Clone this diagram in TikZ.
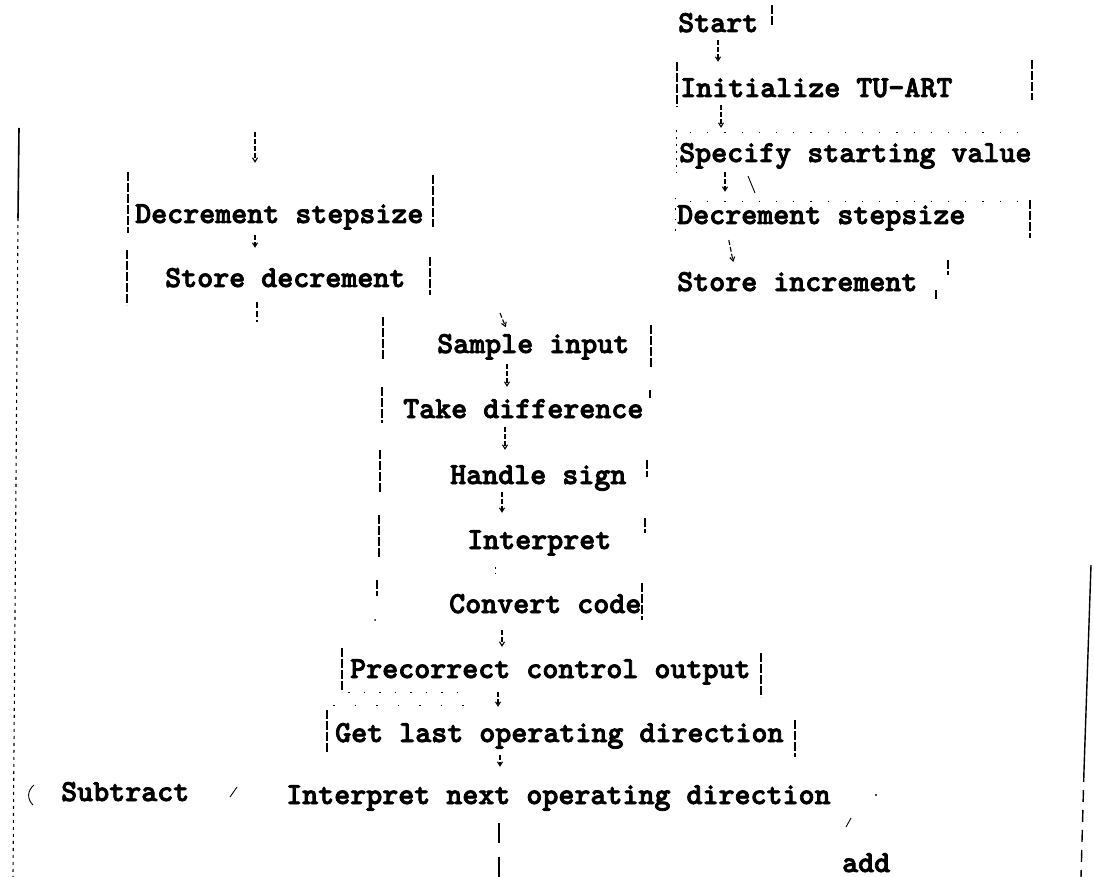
\documentclass[tikz,border=0pt]{standalone}
\usepackage{fontspec}
\usetikzlibrary{arrows.meta}
\newfontfamily\twfont{lmmonolt10-bold}[Extension=.otf,FakeBold=2.6]
\begin{document}
\begin{tikzpicture}[x=1pt,y=-1pt,
  lbl/.style={anchor=base west,inner sep=0pt,text height=20pt,text depth=7pt,
    font=\twfont\fontsize{30.5}{34}\selectfont},
  arr/.style={black,line width=1.1pt,dash pattern=on 5pt off 2pt,-{Straight Barb[length=4pt,width=5pt]}},
  seg/.style={black,line width=1.1pt,dash pattern=on 6pt off 3pt},
  bar/.style={black,line width=1.2pt,dash pattern=on 9pt off 2pt},
  dotln/.style={black,line width=1pt,dash pattern=on 1.2pt off 16pt},
  frag/.style={black,line width=0.9pt}]
\fill[white] (0,0) rectangle (1094,877);
\useasboundingbox (0,0) rectangle (1094,877);

% right column
\node[lbl] (start)    at (678,32)  {Start};
\node[lbl] (init)     at (680,97)  {Initialize TU-ART};
\node[lbl] (spec)     at (679,162) {Specify starting value};
\node[lbl] (decR)     at (677,224) {Decrement stepsize};
\node[lbl] (storeInc) at (677,291) {Store increment};
% left column
\node[lbl] (decL)     at (135,223) {Decrement stepsize};
\node[lbl] (storeDec) at (165,287) {Store decrement};
% middle column
\node[lbl] (sample)   at (437,353) {Sample input};
\node[lbl] (diff)     at (403,418) {Take difference};
\node[lbl] (sign)     at (450,484) {Handle sign};
\node[lbl] (interp)   at (467,549) {Interpret};
\node[lbl] (conv)     at (449,613) {Convert code};
\node[lbl] (precorr)  at (350,678) {Precorrect control output};
\node[lbl] (getlast)  at (335,742) {Get last operating direction};
\node[lbl] (intnext)  at (286,804) {Interpret next operating direction};
\node[lbl] (subtract) at (61,801)  {Subtract};
\node[lbl] (add)      at (842,872) {add};

\coordinate (topL) at (255,132);
\coordinate (botL) at (257,322);
\coordinate (topM) at (500,313);
\coordinate (botM) at (499,877);

% connectors, right column
\draw[arr,shorten <=1pt,shorten >=15pt] (start.south -| 718,0) -- (init.north -| 718,0);
\draw[arr,shorten <=1pt,shorten >=14pt] (init.south -| 721,0) -- (spec.north -| 721,0);
\draw[arr,shorten <=3pt,shorten >=12pt] (spec.south -| 725,0) -- (decR.north -| 725,0);
\draw[frag] (748,176) -- (755,193);
\draw[arr,shorten <=9pt,shorten >=9pt] (decR.south -| 727,0) -- (storeInc.north -| 735,0);
% connectors, left column
\draw[arr,shorten >=40pt] (topL) -- (decL.north -| topL);
\draw[arr,shorten <=5pt,shorten >=19pt] (decL.south -| 255,0) -- (storeDec.north -| 255,0);
\draw[seg,shorten <=8pt] (storeDec.south -| botL) -- (botL);
% connectors, middle column
\draw[arr,shorten >=6pt] (topM) -- (sample.north -| 508,0);
\draw[arr,shorten <=4pt,shorten >=11pt] (sample.south -| 507,0) -- (diff.north -| 507,0);
\draw[arr,shorten <=2pt,shorten >=14pt] (diff.south -| 505,0) -- (sign.north -| 505,0);
\draw[arr,shorten <=1pt,shorten >=16pt] (sign.south -| 502,0) -- (interp.north -| 502,0);
\draw[black,line width=1pt,dash pattern=on 1.5pt off 4pt,shorten <=11pt,shorten >=16pt] (interp.south -| 495,0) -- (conv.north -| 495,0);
\draw[arr,shorten <=10pt,shorten >=11pt] (conv.south -| 502,0) -- (precorr.north -| 502,0);
\draw[arr,shorten <=7pt,shorten >=15pt] (precorr.south -| 498,0) -- (getlast.north -| 498,0);
\draw[arr,shorten <=6pt,shorten >=17pt] (getlast.south -| 500,0) -- (intnext.north -| 500,0);
\draw[black,line width=1.1pt,dash pattern=on 20pt off 14pt,shorten <=12pt] (intnext.south -| botM) -- (botM);

% box side fragments
\draw[bar] (772,5) -- (772,25);
\draw[bar] (677,62) -- (677,107);
\draw[bar] (1032,60) -- (1032,100);
\draw[dotln,dash pattern=on 2pt off 5pt] (676,130) -- (676,173);
\draw[dotln,dash pattern=on 1.5pt off 9pt] (675,198) -- (675,240);
\draw[bar] (1030,200) -- (1030,238);
\draw[bar] (948,260) -- (948,275);
\draw[bar] (936,290) -- (936,300);
\draw[dotln] (690,133) -- (1030,133);
\draw[dotln] (690,202) -- (1030,202);

\draw[bar] (128,172) -- (128,233);
\draw[bar] (433,175) -- (433,227);
\draw[bar] (127,250) -- (127,305);
\draw[bar] (430,257) -- (430,295);

\draw[bar] (383,317) -- (383,360);
\draw[bar] (651,325) -- (651,367);
\draw[bar] (382,387) -- (382,423);
\draw[bar] (650,390) -- (650,398);
\draw[bar] (380,450) -- (380,493);
\draw[bar] (647,460) -- (647,477);
\draw[bar] (379,515) -- (379,557);
\draw[bar] (645,518) -- (645,533);
\draw[bar] (377,580) -- (377,596);
\fill (375,620) circle (1pt);
\draw[bar] (642,583) -- (642,620);
\draw[bar] (342,648) -- (342,692);
\draw[bar] (761,653) -- (761,697);
\draw[dotln,dash pattern=on 1.5pt off 14pt] (348,692) -- (470,692);
\draw[bar] (327,710) -- (327,752);
\draw[bar] (795,720) -- (795,757);
\draw[dotln,dash pattern=on 1.5pt off 20pt] (333,705) -- (470,705);

% fragments around the bottom branch
\draw[frag] (34,785) .. controls (27,791) and (27,799) .. (33,805);
\draw[frag] (230,797) -- (237,787);
\fill (876,795) circle (1.2pt);
\draw[frag] (846,827) -- (851,818);

% long side lines
\draw[black,line width=1.6pt] (19,128) -- (18,218);
\draw[black,line width=1.1pt,dash pattern=on 3pt off 4pt] (18,218) -- (13,877);
\draw[black,line width=1.4pt] (1091,565) -- (1084,770);
\draw[black,line width=1.4pt,dash pattern=on 12pt off 8pt] (1084,770) -- (1081,877);
\end{tikzpicture}
\end{document}
